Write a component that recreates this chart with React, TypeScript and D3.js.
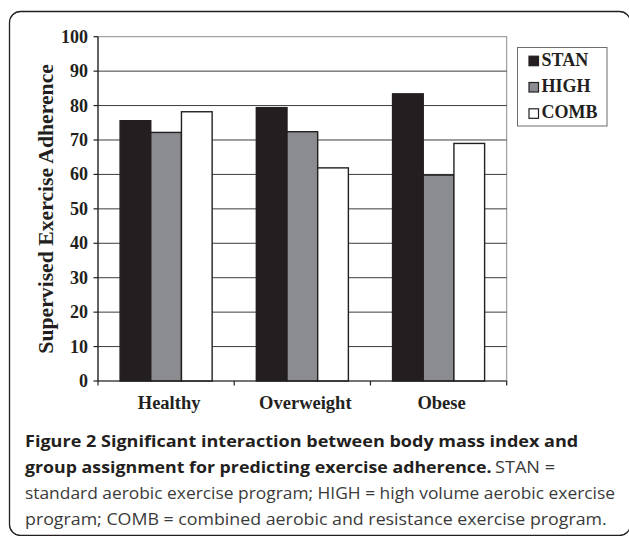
import * as d3 from 'd3'

const CATEGORIES = ['Healthy', 'Overweight', 'Obese']
const SERIES = ['STAN', 'HIGH', 'COMB']
const STAN = [75.6, 79.4, 83.4]
const HIGH = [72.2, 72.4, 59.8]
const COMB = [78.2, 61.9, 69.0]
const Y_TICKS = [0, 10, 20, 30, 40, 50, 60, 70, 80, 90, 100]
const FILLS = ['#231f20', '#8b8c8f', '#ffffff']

const CAPTION = [
  { bold: 'Figure 2 Significant interaction between body mass index and', reg: '' },
  { bold: 'group assignment for predicting exercise adherence.', reg: 'STAN =' },
  { bold: '', reg: 'standard aerobic exercise program; HIGH = high volume aerobic exercise' },
  { bold: '', reg: 'program; COMB = combined aerobic and resistance exercise program.' },
]

const W = 629
const H = 536
const serif = '"Liberation Serif", "Times New Roman", serif'
const sans = '"Open Sans", "Noto Sans", sans-serif'

export default function App() {
  const plot = { left: 98, right: 506.7, top: 36.7, bottom: 381 }
  const x = d3.scaleBand().domain(CATEGORIES).range([plot.left, plot.right]).padding(0)
  const xs = d3.scaleBand().domain(SERIES).range([0, x.bandwidth()]).paddingInner(0).paddingOuter(0.72)
  const y = d3.scaleLinear().domain([0, 100]).range([plot.bottom, plot.top])
  const values = [STAN, HIGH, COMB]

  // caption line geometry (width fitted to the reference)
  const capX = 25
  const capBase = [447, 473, 499, 524.5]
  const capEnd = [578.3, 491.5, 615, 606.7]

  return (
    <svg width={W} height={H} style={{ position: 'absolute', left: 0, top: 0, background: '#fff' }}>
      {/* frame, right and bottom edges run off the page */}
      <rect x={9.5} y={11.5} width={621} height={524} rx={11} fill="none" stroke="#231f20" strokeWidth={1.3} />

      {/* plot border */}
      <rect x={plot.left} y={plot.top} width={plot.right - plot.left} height={plot.bottom - plot.top}
        fill="none" stroke="#8c8c8c" strokeWidth={1} />

      {/* gridlines */}
      {Y_TICKS.filter((t) => t > 0 && t < 100).map((t) => (
        <line key={t} x1={plot.left} x2={plot.right} y1={y(t)} y2={y(t)} stroke="#3c3c3c" strokeWidth={1} />
      ))}

      {/* bars */}
      {CATEGORIES.map((c, ci) => (
        <g key={c}>
          {SERIES.map((s, si) => (
            <rect key={s} x={x(c)! + xs(s)!} y={y(values[si][ci])} width={xs.bandwidth()}
              height={y(0) - y(values[si][ci])} fill={FILLS[si]} stroke="#231f20" strokeWidth={1.4} />
          ))}
        </g>
      ))}

      {/* y axis */}
      <line x1={plot.left} x2={plot.left} y1={plot.top} y2={plot.bottom} stroke="#231f20" strokeWidth={1.2} />
      {Y_TICKS.map((t) => (
        <g key={t}>
          <line x1={plot.left - 4.5} x2={plot.left} y1={y(t)} y2={y(t)} stroke="#231f20" strokeWidth={1.2} />
          <text x={88} y={y(t)} dy="0.33em" textAnchor="end" fontFamily={serif} fontWeight="bold"
            fontSize={18} fill="#231f20">{t}</text>
        </g>
      ))}

      {/* x axis */}
      <line x1={plot.left} x2={plot.right} y1={plot.bottom} y2={plot.bottom} stroke="#231f20" strokeWidth={1.2} />
      {[...CATEGORIES.map((c) => x(c)!), plot.right].map((v, i) => (
        <line key={i} x1={v} x2={v} y1={plot.bottom} y2={plot.bottom + 4.5} stroke="#231f20" strokeWidth={1.2} />
      ))}
      {CATEGORIES.map((c) => (
        <text key={c} x={x(c)! + x.bandwidth() / 2 + 3} y={409} textAnchor="middle" fontFamily={serif}
          fontWeight="bold" fontSize={18.5} fill="#231f20">{c}</text>
      ))}

      {/* y title */}
      <text transform={`translate(52.5,${(plot.top + plot.bottom) / 2}) rotate(-90)`} textAnchor="middle"
        fontFamily={serif} fontWeight="bold" fontSize={21.7} fill="#231f20">Supervised Exercise Adherence</text>

      {/* legend */}
      <rect x={517.5} y={47.5} width={89.5} height={78.5} fill="#fff" stroke="#6d6d6d" strokeWidth={1} />
      {SERIES.map((s, i) => (
        <g key={s} transform={`translate(529,${65.7 + i * 26.3})`}>
          <rect x={0} y={-9.5} width={9.5} height={9.5} fill={FILLS[i]} stroke="#231f20" strokeWidth={1.2} />
          <text x={12.5} y={0} fontFamily={serif} fontWeight="bold" fontSize={18} fill="#231f20">{s}</text>
        </g>
      ))}

      {/* caption */}
      {CAPTION.map((l, i) => (
        <g key={i}>
          {l.bold && (
            <text x={capX} y={capBase[i]} fontFamily={sans} fontWeight="bold" fontSize={16.5} fill="#231f20"
              textLength={capEnd[i] - capX} lengthAdjust="spacingAndGlyphs">{l.bold}</text>
          )}
          {l.reg && (
            <text x={l.bold ? 495 : capX} y={capBase[i]} fontFamily={sans} fontSize={16.5} fill="#3a3a3a"
              textLength={l.bold ? 555 - 495 : capEnd[i] - capX} lengthAdjust="spacingAndGlyphs">{l.reg}</text>
          )}
        </g>
      ))}
    </svg>
  )
}
